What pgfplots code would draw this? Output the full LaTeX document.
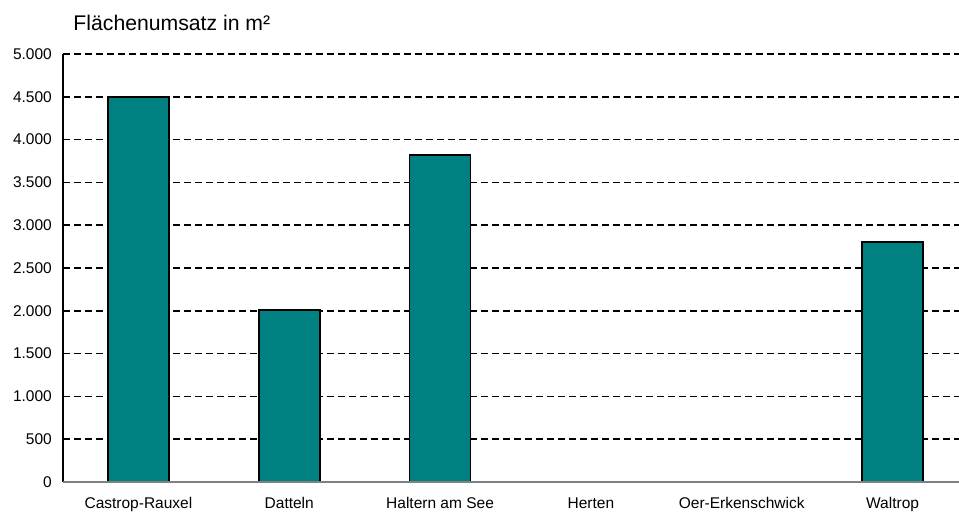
\documentclass[border=0pt]{standalone}
\usepackage{pgfplots}
\pgfplotsset{compat=1.18}
\usepackage{fontspec}
\setmainfont{Liberation Sans}
\definecolor{barteal}{RGB}{0,128,128}
\definecolor{axgray}{RGB}{128,128,128}
\begin{document}
\begin{tikzpicture}
\begin{axis}[
  name=ax,
  scale only axis,
  width=905bp, height=428bp,
  xmin=-0.5, xmax=5.5,
  ymin=0, ymax=5000,
  ytick={0,500,...,5000},
  xtick={0,1,2,3,4,5},
  xticklabels={Castrop-Rauxel,Datteln,Haltern am See,Herten,Oer-Erkenschwick,Waltrop},
  major tick length=0pt,
  axis line style={draw=none},
  axis x line*=bottom,
  axis y line*=left,
  ymajorgrids,
  grid style={black, line width=1.5bp, dash pattern=on 7bp off 4bp},
  every tick label/.append style={font=\fontsize{15.5bp}{18bp}\selectfont},
  yticklabel style={anchor=east, inner sep=0pt, xshift=-11bp},
  xticklabel style={anchor=base, inner sep=0pt, yshift=-27bp},
  /pgf/number format/.cd, 1000 sep={.}, use comma, assume math mode=true,
  /pgfplots/.cd,
  clip=false,
]
\addplot[ybar, bar width=61bp, fill=barteal, draw=black, line width=1.8bp]
  coordinates {(0,4500) (1,2010) (2,3820) (5,2805)};
\draw[black, line width=1.5bp] (rel axis cs:0,0) -- (rel axis cs:0,1);
\draw[axgray, line width=1.5bp] (rel axis cs:0,0) -- (rel axis cs:1,0);
\coordinate (o) at (rel axis cs:0,0);
\coordinate (t) at (rel axis cs:0,1);
\end{axis}
\node[anchor=base west, inner sep=0pt, font=\fontsize{21.2bp}{25bp}\selectfont] at ([xshift=10.3bp, yshift=23.3bp]t) {Flächenumsatz in m²};
\pgfresetboundingbox
\path (o) ++(-63bp,-32bp) rectangle ++(959bp,514bp);
\end{tikzpicture}
\end{document}
